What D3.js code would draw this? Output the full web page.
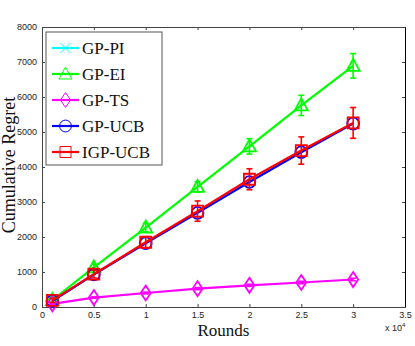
<!DOCTYPE html>
<html>
<head>
<meta charset="utf-8">
<script src="https://d3js.org/d3.v7.min.js"></script>
<style>
  body { margin: 0; background: #fff; }
  svg { display: block; }
  .tick text { font-family: "Liberation Sans", Arial, sans-serif; font-size: 9px; fill: #222; }
</style>
</head>
<body>
<svg width="415" height="346"></svg>
<script>
// rounds (x 10^4)
const rounds = [0.1, 0.5, 1, 1.5, 2, 2.5, 3];
const xTicks = [0, 0.5, 1, 1.5, 2, 2.5, 3, 3.5];
const yTicks = [0, 1000, 2000, 3000, 4000, 5000, 6000, 7000, 8000];

// GP-PI is not visible in the plot area
const gpPI = [];
const gpEI = [200, 1130, 2270, 3430, 4590, 5760, 6890];
const gpEIerr = [60, 90, 120, 150, 220, 290, 350];
const gpTS = [90, 270, 400, 525, 620, 700, 785];
const gpTSerr = [15, 20, 25, 30, 30, 35, 35];
const gpUCB = [170, 930, 1820, 2690, 3570, 4420, 5240];
const igpUCB = [190, 940, 1850, 2740, 3650, 4470, 5260];
const igpUCBerr = [60, 110, 160, 290, 300, 390, 440];

const series = [
  { name: "GP-PI", color: "#00ffff", marker: "x", vals: gpPI, err: null },
  { name: "GP-EI", color: "#00ff00", marker: "triangle", vals: gpEI, err: gpEIerr },
  { name: "GP-TS", color: "#ff00ff", marker: "diamond", vals: gpTS, err: gpTSerr },
  { name: "GP-UCB", color: "#0000ff", marker: "circle", vals: gpUCB, err: null },
  { name: "IGP-UCB", color: "#ff0000", marker: "square", vals: igpUCB, err: igpUCBerr }
];

const svg = d3.select("svg");
const mL = 42, mR = 405, mT = 27, mB = 307;

const x = d3.scaleLinear().domain([0, 3.5]).range([mL, mR]);
const y = d3.scaleLinear().domain([0, 8000]).range([mB, mT]);

// marker paths
function markerPath(type) {
  if (type === "triangle") return "M0,-7L6.5,5L-6.5,5Z";
  if (type === "diamond") return "M0,-7.5L5,0L0,7.5L-5,0Z";
  if (type === "square") return "M-5.5,-5.5H5.5V5.5H-5.5Z";
  if (type === "x") return "M-5,-5L5,5M-5,5L5,-5";
  return d3.symbol(d3.symbolCircle, 110)();
}

// axes (ticks inside)
const xAxis = d3.axisBottom(x).tickValues(xTicks).tickFormat(d3.format("")).tickSizeInner(-3).tickSizeOuter(0).tickPadding(5);
const yAxis = d3.axisLeft(y).tickValues(yTicks).tickFormat(d3.format("d")).tickSizeInner(-3).tickSizeOuter(0).tickPadding(5);

const gx = svg.append("g").attr("transform", `translate(0,${mB})`).call(xAxis);
const gy = svg.append("g").attr("transform", `translate(${mL},0)`).call(yAxis);
const gxTop = svg.append("g").attr("transform", `translate(0,${mT})`)
  .call(d3.axisTop(x).tickValues(xTicks).tickFormat("").tickSizeInner(-3).tickSizeOuter(0));
const gyRight = svg.append("g").attr("transform", `translate(${mR},0)`)
  .call(d3.axisRight(y).tickValues(yTicks).tickFormat("").tickSizeInner(-3).tickSizeOuter(0));
[gx, gy, gxTop, gyRight].forEach(g => {
  g.select(".domain").attr("stroke", "#444");
  g.selectAll(".tick line").attr("stroke", "#444");
});
gyRight.select(".domain").attr("stroke", "#000");

const plot = svg.append("g");
const line = d3.line().x(d => x(d[0])).y(d => y(d[1]));

series.forEach(s => {
  const pts = s.vals.map((v, i) => [rounds[i], v]);
  const g = plot.append("g");
  g.append("path").datum(pts)
    .attr("fill", "none").attr("stroke", s.color).attr("stroke-width", 2.2)
    .attr("d", line);
  if (s.err) {
    const eb = g.selectAll(".eb").data(pts).enter().append("g").attr("stroke", s.color).attr("stroke-width", 1.6);
    eb.append("line")
      .attr("x1", d => x(d[0])).attr("x2", d => x(d[0]))
      .attr("y1", (d, i) => y(d[1] - s.err[i])).attr("y2", (d, i) => y(d[1] + s.err[i]));
    eb.append("line")
      .attr("x1", d => x(d[0]) - 3).attr("x2", d => x(d[0]) + 3)
      .attr("y1", (d, i) => y(d[1] - s.err[i])).attr("y2", (d, i) => y(d[1] - s.err[i]));
    eb.append("line")
      .attr("x1", d => x(d[0]) - 3).attr("x2", d => x(d[0]) + 3)
      .attr("y1", (d, i) => y(d[1] + s.err[i])).attr("y2", (d, i) => y(d[1] + s.err[i]));
  }
  g.selectAll(".mk").data(pts).enter().append("path")
    .attr("transform", d => `translate(${x(d[0])},${y(d[1])})`)
    .attr("d", markerPath(s.marker))
    .attr("fill", "none").attr("stroke", s.color).attr("stroke-width", 1.8);
});

// legend
const lg = svg.append("g");
lg.append("rect").attr("x", 46).attr("y", 32).attr("width", 116).attr("height", 133)
  .attr("fill", "#fff").attr("stroke", "#555").attr("stroke-width", 1);
series.forEach((s, i) => {
  const cy = 48 + i * 26;
  lg.append("line").attr("x1", 52).attr("x2", 79).attr("y1", cy).attr("y2", cy)
    .attr("stroke", s.color).attr("stroke-width", 2.2);
  lg.append("path").attr("transform", `translate(65.5,${cy})`)
    .attr("d", markerPath(s.marker))
    .attr("fill", "none").attr("stroke", s.color).attr("stroke-width", 1);
  lg.append("text").attr("x", 82).attr("y", cy + 5.5)
    .attr("font-family", "'Liberation Serif', 'DejaVu Serif', serif").attr("font-size", 17)
    .attr("fill", "#111").text(s.name);
});

// axis titles
svg.append("text").attr("x", (mL + mR) / 2).attr("y", 336).attr("text-anchor", "middle")
  .attr("font-family", "'Liberation Serif', serif").attr("font-size", 17).attr("fill", "#111")
  .text("Rounds");
svg.append("text").attr("transform", "translate(15,165) rotate(-90)")
  .attr("text-anchor", "middle")
  .attr("font-family", "'Liberation Serif', serif").attr("font-size", 18).attr("fill", "#111")
  .text("Cumulative Regret");
const mult = svg.append("text").attr("x", 385).attr("y", 331)
  .attr("font-family", "'Liberation Sans', Arial, sans-serif").attr("font-size", 9).attr("fill", "#222");
mult.append("tspan").text("x 10");
mult.append("tspan").attr("dy", -4).attr("font-size", 6).text("4");
</script>
</body>
</html>
